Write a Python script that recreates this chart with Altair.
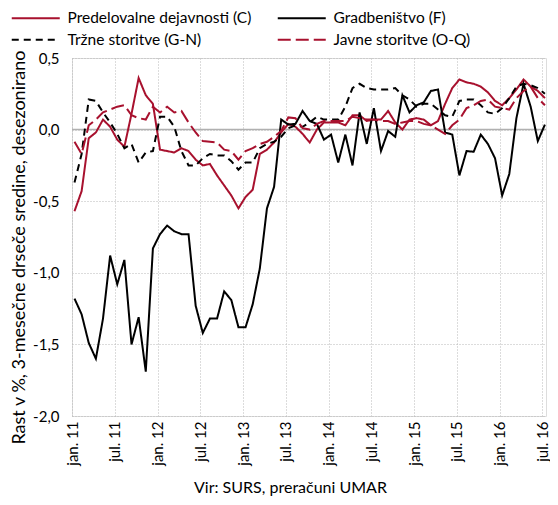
import altair as alt
import pandas as pd

# month index 0 = jan 2011 ... 66 = jul 2016
months = list(range(67))

pred_C = [-0.57, -0.43, -0.06, -0.02, 0.07, 0.02, -0.07, -0.12, 0.11, 0.36,
          0.24, 0.18, -0.14, -0.15, -0.16, -0.13, -0.15, -0.21, -0.25, -0.24,
          -0.32, -0.39, -0.46, -0.55, -0.47, -0.42, -0.17, -0.14, -0.09, -0.02,
          0.04, 0.02, -0.03, -0.09, 0.0, 0.05, 0.05, 0.05, 0.03, 0.10,
          0.10, 0.06, 0.07, 0.07, 0.13, 0.05, 0.0, 0.07, 0.08, 0.07,
          0.03, 0.06, 0.18, 0.29, 0.35, 0.33, 0.32, 0.30, 0.26, 0.20,
          0.17, 0.22, 0.28, 0.35, 0.30, 0.27, 0.22]

grad_F = [-1.18, -1.29, -1.49, -1.60, -1.32, -0.88, -1.08, -0.91, -1.50, -1.31,
          -1.69, -0.83, -0.73, -0.67, -0.71, -0.73, -0.73, -1.23, -1.42, -1.32,
          -1.32, -1.13, -1.19, -1.38, -1.38, -1.22, -0.97, -0.55, -0.40, 0.07,
          0.035, 0.04, 0.13, 0.06, 0.04, -0.07, -0.035, -0.23, -0.035, -0.25,
          0.12, -0.10, 0.15, -0.15, -0.01, -0.05, 0.24, 0.12, 0.17, 0.19,
          0.27, 0.28, -0.02, -0.035, -0.32, -0.15, -0.155, -0.035, -0.10, -0.20,
          -0.46, -0.31, 0.08, 0.32, 0.16, -0.08, 0.035]

trzne_GN = [-0.37, -0.17, 0.21, 0.20, 0.12, 0.05, -0.03, -0.13, -0.10, -0.23,
            -0.16, -0.15, 0.09, 0.09, 0.02, -0.15, -0.25, -0.25, -0.20, -0.17,
            -0.18, -0.18, -0.22, -0.28, -0.23, -0.23, -0.13, -0.10, -0.085, -0.05,
            0.01, 0.03, 0.02, 0.05, 0.09, 0.07, 0.07, 0.07, 0.16, 0.29,
            0.32, 0.29, 0.28, 0.28, 0.28, 0.29, 0.24, 0.21, 0.16, 0.18,
            0.18, 0.14, 0.10, 0.09, 0.20, 0.21, 0.21, 0.17, 0.12, 0.11,
            0.15, 0.22, 0.30, 0.32, 0.31, 0.29, 0.25]

javne_OQ = [-0.085, -0.17, 0.03, 0.07, 0.12, 0.14, 0.16, 0.17, 0.10, 0.08,
            0.07, 0.16, 0.12, 0.16, 0.12, 0.13, 0.05, -0.02, -0.08, -0.085,
            -0.09, -0.14, -0.15, -0.21, -0.15, -0.13, -0.10, -0.085, -0.05, -0.01,
            0.085, 0.08, 0.01, 0.0, 0.04, 0.06, 0.06, 0.06, 0.06, 0.09,
            0.08, 0.07, 0.07, 0.06, 0.06, 0.04, 0.05, 0.06, 0.06, 0.04,
            0.03, 0.0, -0.03, 0.03, 0.07, 0.15, 0.17, 0.20, 0.21, 0.16,
            0.15, 0.14, 0.22, 0.27, 0.30, 0.22, 0.17]

# order chosen so the 2-column legend reads C, F / G-N, O-Q
series_names = ["Predelovalne dejavnosti (C)", "Tržne storitve (G-N)",
                "Gradbeništvo (F)", "Javne storitve (O-Q)"]
series_values = [pred_C, trzne_GN, grad_F, javne_OQ]
tick_labels = ["jan. 11", "jul. 11", "jan. 12", "jul. 12", "jan. 13", "jul. 13",
               "jan. 14", "jul. 14", "jan. 15", "jul. 15", "jan. 16", "jul. 16"]
y_ticks = [-2.0, -1.5, -1.0, -0.5, 0.0, 0.5]

RED = "#a8112e"
rows = []
for name, vals in zip(series_names, series_values):
    for m, v in zip(months, vals):
        rows.append({"m": m, "v": v, "s": name})
df = pd.DataFrame(rows)

OFF = 0.35
tick_vals = [6 * k - OFF for k in range(len(tick_labels))]
label_arr = "[" + ",".join("'%s'" % t for t in tick_labels) + "]"

FONT = "Lato"

x = alt.X("m:Q",
          scale=alt.Scale(domain=[-OFF, 66.15], nice=False, zero=False),
          axis=alt.Axis(values=tick_vals,
                        labelExpr=label_arr + "[round((datum.value + %s) / 6)]" % OFF,
                        labelAngle=270, labelAlign="right", labelBaseline="middle",
                        labelPadding=5, ticks=False, domain=False,
                        grid=True, gridDash=[1, 2], gridColor="#b8b8b8", gridWidth=1,
                        labelFontSize=15, labelColor="#000", labelFont=FONT,
                        title="Vir: SURS, preračuni UMAR", titleFont=FONT,
                        titleFontSize=16, titleFontWeight="normal", titleColor="#000",
                        titleX=218, titleY=76, titleAlign="center",
                        titleBaseline="alphabetic"))
y = alt.Y("v:Q",
          scale=alt.Scale(domain=[-2.0, 0.5], nice=False, zero=False),
          axis=alt.Axis(values=y_ticks,
                        labelExpr="(datum.value < 0 ? '-' : '') + replace(format(abs(datum.value), '.1f'), '.', ',')",
                        ticks=False, domain=False, labelPadding=13,
                        grid=True, gridDash=[1, 2], gridColor="#b8b8b8", gridWidth=1,
                        labelFontSize=15, labelColor="#000", labelFont=FONT,
                        title="Rast v %, 3-mesečne drseče sredine, desezonirano",
                        titleFont=FONT, titleFontSize=18, titleFontWeight="normal",
                        titleColor="#000", titlePadding=4, titleY=189))

leg = dict(title=None, orient="none", legendX=-44, legendY=-48,
           columns=2, columnPadding=21, rowPadding=5,
           symbolType="M-4,0H4", symbolSize=144,
           symbolStrokeWidth=2, labelFont=FONT,
           labelFontSize=15.5, labelColor="#000",
           labelOffset=24, labelLimit=400)

lines = alt.Chart(df).mark_line(strokeWidth=2).encode(
    x=x, y=y,
    color=alt.Color("s:N", scale=alt.Scale(domain=series_names,
                                           range=[RED, "#000000", "#000000", RED]),
                    legend=alt.Legend(**leg)),
    strokeDash=alt.StrokeDash("s:N", scale=alt.Scale(domain=series_names,
                                                     range=[[1, 0], [7, 5], [1, 0], [13, 5]]),
                              legend=alt.Legend(**leg)),
)

zero = alt.Chart(pd.DataFrame({"z": [0.0]})).mark_rule(color="#b0b0b0", strokeWidth=1.5).encode(
    y=alt.Y("z:Q", scale=alt.Scale(domain=[-2.0, 0.5], nice=False, zero=False))
)

chart = alt.layer(zero, lines).properties(
    width=474, height=358,
    autosize=alt.AutoSizeParams(type="none"),
    padding={"left": 64, "top": 50, "right": 4, "bottom": 81},
).configure_view(stroke="#bdbdbd", strokeWidth=1.5).configure(background="white")

chart.save("out.html", embed_options={"renderer": "svg", "actions": False})
